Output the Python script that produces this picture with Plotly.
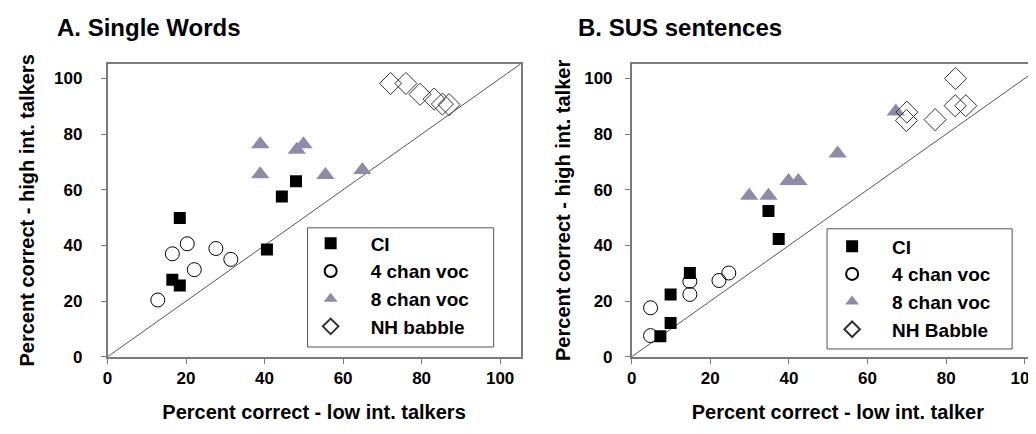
import plotly.graph_objects as go

W, H = 1036, 434

# ---- Panel A: Single Words ----
a_ci_x = [18.4, 16.5, 18.4, 40.6, 44.4, 48.0]
a_ci_y = [49.9, 27.7, 25.6, 38.5, 57.6, 63.1]
a_v4_x = [12.8, 16.5, 20.3, 22.1, 27.6, 31.4]
a_v4_y = [20.4, 37.0, 40.6, 31.3, 38.9, 35.0]
a_v8_x = [38.9, 38.9, 48.2, 49.9, 55.5, 64.9]
a_v8_y = [76.4, 65.6, 74.4, 76.4, 65.3, 67.1]
a_nh_x = [72.1, 76.0, 79.6, 83.2, 85.3, 87.0]
a_nh_y = [98.2, 98.2, 94.3, 92.6, 90.8, 90.6]

# ---- Panel B: SUS sentences ----
b_ci_x = [34.8, 37.4, 14.8, 9.9, 9.9, 7.3]
b_ci_y = [52.4, 42.3, 30.1, 22.4, 12.1, 7.4]
b_v4_x = [4.8, 4.8, 14.8, 14.8, 22.2, 24.7]
b_v4_y = [17.6, 7.6, 27.1, 22.4, 27.4, 30.1]
b_v8_x = [29.9, 34.8, 39.9, 42.4, 52.4, 67.2]
b_v8_y = [57.9, 57.9, 63.2, 63.2, 73.0, 88.1]
b_nh_x = [70.0, 69.9, 77.2, 82.4, 82.3, 85.0]
b_nh_y = [87.9, 84.9, 85.2, 100.0, 90.2, 90.2]

ticks = [0, 20, 40, 60, 80, 100]
tick_text = ["0", "20", "40", "60", "80", "100"]
diag = [0, 110]

names_a = ["CI", "4 chan voc", "8 chan voc", "NH babble"]
names_b = ["CI", "4 chan voc", "8 chan voc", "NH Babble"]

TRI = "#8D8BA9"
FRAME = "#7a7a7a"

styles = [
    dict(symbol="square", size=12, color="black", line=dict(width=0)),
    dict(symbol="circle-open", size=14, color="black", line=dict(width=1)),
    dict(symbol="triangle-up", size=16, color=TRI, line=dict(width=0)),
    dict(symbol="diamond-open", size=17, color="#333333", line=dict(width=1)),
]

fig = go.Figure()

for (xa, ya, leg, names, data) in [
    ("x", "y", "legend", names_a,
     [(a_ci_x, a_ci_y), (a_v4_x, a_v4_y), (a_v8_x, a_v8_y), (a_nh_x, a_nh_y)]),
    ("x2", "y2", "legend2", names_b,
     [(b_ci_x, b_ci_y), (b_v4_x, b_v4_y), (b_v8_x, b_v8_y), (b_nh_x, b_nh_y)]),
]:
    fig.add_trace(go.Scatter(x=diag, y=diag, mode="lines", xaxis=xa, yaxis=ya,
                             line=dict(color="#555555", width=1), showlegend=False,
                             hoverinfo="skip"))
    for (xs, ys), nm, st in zip(data, names, styles):
        fig.add_trace(go.Scatter(x=xs, y=ys, mode="markers", name=nm, xaxis=xa, yaxis=ya,
                                 legend=leg, marker=st))

def px_x(p):
    return p / W

def px_y(p):
    return 1 - p / H

tickfont = dict(family="Arial", size=17, color="black", weight="bold")
titlefont = dict(family="Arial", size=20, color="black", weight="bold")
legfont = dict(family="Arial", size=19, color="black", weight="bold")

common = dict(tickmode="array", tickvals=ticks, ticktext=tick_text, ticks="outside",
              ticklen=5, tickwidth=1, tickcolor=FRAME, showgrid=False, zeroline=False,
              showline=True, linecolor=FRAME, linewidth=1.5, tickfont=tickfont)

fig.update_layout(
    width=W, height=H, margin=dict(l=0, r=0, t=0, b=0),
    paper_bgcolor="white", plot_bgcolor="white",
    xaxis=dict(domain=[px_x(95), px_x(510)], range=[0, 105.2], anchor="y", mirror=True,
               title=dict(text="Percent correct - low int. talkers", font=titlefont, standoff=18),
               **common),
    yaxis=dict(domain=[px_y(357), px_y(57.3)], range=[0, 105.2], anchor="x", mirror=True,
               title=dict(text="Percent correct - high int. talkers", font=titlefont, standoff=14),
               ticklabelstandoff=15, **common),
    xaxis2=dict(domain=[px_x(621.7), 1.0], range=[0, 104.9], anchor="y2", mirror=True,
                title=dict(text="Percent correct - low int. talker", font=titlefont, standoff=18),
                **common),
    yaxis2=dict(domain=[px_y(357), px_y(57.3)], range=[0, 105.2], anchor="x2", mirror=False,
                title=dict(text="Percent correct - high int. talker", font=titlefont, standoff=8),
                ticklabelstandoff=9, **common),
    legend=dict(x=px_x(279), y=px_y(221.5), xanchor="left", yanchor="top",
                bgcolor="rgba(0,0,0,0)", borderwidth=0, indentation=0, itemwidth=70,
                itemsizing="constant", font=legfont, tracegroupgap=0),
    legend2=dict(x=px_x(803), y=px_y(224.5), xanchor="left", yanchor="top",
                 bgcolor="rgba(0,0,0,0)", borderwidth=0, indentation=0, itemwidth=70,
                 itemsizing="constant", font=legfont, tracegroupgap=0),
    shapes=[
        dict(type="rect", xref="paper", yref="paper", x0=px_x(296), x1=px_x(483),
             y0=px_y(347), y1=px_y(225), line=dict(color="#555555", width=1)),
        dict(type="rect", xref="paper", yref="paper", x0=px_x(818), x1=px_x(1004),
             y0=px_y(349), y1=px_y(226), line=dict(color="#555555", width=1)),
    ],
    annotations=[
        dict(text="A. Single Words", xref="paper", yref="paper", x=px_x(42), y=px_y(20),
             xanchor="left", yanchor="middle", showarrow=False,
             font=dict(family="Arial", size=24, color="black", weight="bold")),
        dict(text="B. SUS sentences", xref="paper", yref="paper", x=px_x(566), y=px_y(20),
             xanchor="left", yanchor="middle", showarrow=False,
             font=dict(family="Arial", size=24, color="black", weight="bold")),
    ],
)

fig.write_html("out.html")
